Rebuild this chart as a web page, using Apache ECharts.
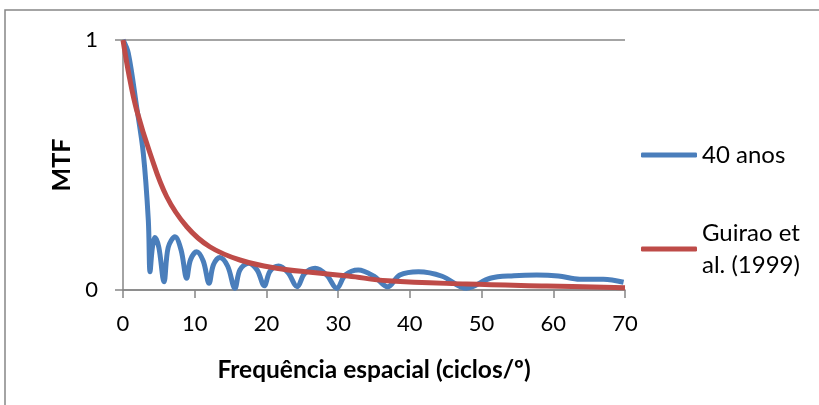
<!DOCTYPE html>
<html>
<head>
<meta charset="utf-8">
<script src="https://cdn.jsdelivr.net/npm/echarts@6/dist/echarts.min.js"></script>
<style>
  html, body { margin: 0; padding: 0; background: #fff; }
  #chart { width: 819px; height: 405px; }
</style>
</head>
<body>
<div id="chart"></div>
<script>
// series names
var seriesNames = ['40 anos', 'Guirao et al. (1999)'];

// 40 anos (blue)
var blueX = [0, 0.74, 1.9, 2.83, 3.53, 3.77, 4.1, 4.46, 5.0, 5.72, 6.3, 7.25, 8.1, 8.88, 9.4, 10.27, 11.2, 12.0,
  12.6, 13.5, 14.6, 15.6, 16.3, 17.5, 18.7, 19.7, 20.5, 21.7, 23.0, 24.3, 25.3, 26.8, 28.4, 29.8,
  31.0, 32.8, 35.0, 36.9, 38.6, 41.2, 44.5, 47.9, 51.2, 54.5, 57.7, 60.7, 63.7, 67.0, 69.8];
var blueY = [1.0, 0.947, 0.733, 0.547, 0.28, 0.073, 0.17, 0.21, 0.17, 0.033, 0.17, 0.213, 0.16, 0.047, 0.12, 0.153, 0.115, 0.027,
  0.1, 0.13, 0.095, 0.007, 0.08, 0.107, 0.08, 0.017, 0.075, 0.096, 0.07, 0.013, 0.065, 0.087, 0.06, 0.007,
  0.06, 0.08, 0.055, 0.013, 0.06, 0.073, 0.055, 0.007, 0.047, 0.057, 0.06, 0.056, 0.043, 0.043, 0.031];

// Guirao et al. (1999) (red)
var redX = [0, 0.9, 1.9, 3.77, 6.1, 8.9, 12.1, 16.3, 21.4, 26.5, 31.4, 36.9, 47.9, 59.1, 70];
var redY = [1.0, 0.85, 0.72, 0.547, 0.373, 0.253, 0.173, 0.12, 0.087, 0.07, 0.056, 0.037, 0.024, 0.016, 0.009];

var xTicks = [0, 70, 10];   // min, max, interval
var yTicks = [0, 1, 1];

function pairs(xs, ys) {
  return xs.map(function (x, i) { return [x, ys[i]]; });
}

var font = 'Lato';
var gray = '#868686';
var myEcharts = echarts.init(document.getElementById('chart'), null, { renderer: 'canvas' });

var option = {
  animation: false,
  backgroundColor: '#fff',
  textStyle: { fontFamily: font, color: '#000' },
  grid: { left: 123, right: 194, top: 40, bottom: 115 },
  graphic: [{
    type: 'polyline',
    shape: { points: [[5, 405], [5, 10], [819, 10]] },
    style: { stroke: gray, lineWidth: 1.5, fill: null },
    silent: true
  }],
  legend: [{
    orient: 'vertical',
    left: 641,
    top: 139,
    padding: 0,
    data: [seriesNames[0]],
    icon: 'roundRect',
    itemWidth: 56,
    itemHeight: 5,
    itemGap: 0,
    textStyle: { fontFamily: font, fontSize: 24, color: '#000', lineHeight: 32 }
  }, {
    orient: 'vertical',
    left: 641,
    top: 201,
    padding: 0,
    data: [{ name: seriesNames[1], textStyle: { padding: [32, 0, 0, 0] } }],
    formatter: function () { return 'Guirao et\nal. (1999)'; },
    icon: 'roundRect',
    itemWidth: 56,
    itemHeight: 5,
    textStyle: { fontFamily: font, fontSize: 24, color: '#000', lineHeight: 32 }
  }],
  xAxis: {
    type: 'value',
    min: xTicks[0],
    max: xTicks[1],
    interval: xTicks[2],
    name: 'Frequência espacial (ciclos/º)',
    nameLocation: 'middle',
    nameGap: 68,
    nameTextStyle: { fontFamily: font, fontSize: 24.5, fontWeight: 'bold', color: '#000' },
    axisLine: { lineStyle: { color: gray, width: 1.5 } },
    axisTick: { show: true, length: 8, lineStyle: { color: gray, width: 1.5 } },
    axisLabel: { margin: 23, fontFamily: font, fontSize: 22, color: '#000' },
    splitLine: { show: false }
  },
  yAxis: {
    type: 'value',
    min: yTicks[0],
    max: yTicks[1],
    interval: yTicks[2],
    name: 'MTF',
    nameLocation: 'middle',
    nameRotate: 90,
    nameGap: 46,
    nameTextStyle: { fontFamily: font, fontSize: 25, fontWeight: 'bold', color: '#000' },
    axisLine: { show: true, lineStyle: { color: gray, width: 1.5 } },
    axisTick: { show: true, length: 8, lineStyle: { color: gray, width: 1.5 } },
    axisLabel: { margin: 25, fontFamily: font, fontSize: 22, color: '#000' },
    splitLine: { show: true, lineStyle: { color: gray, width: 1.5 } }
  },
  series: [{
    name: seriesNames[0],
    type: 'line',
    data: pairs(blueX, blueY),
    showSymbol: false,
    smooth: 0.35,
    lineStyle: { color: '#4A7EBB', width: 5 },
    itemStyle: { color: '#4A7EBB' },
    z: 2
  }, {
    name: seriesNames[1],
    type: 'line',
    data: pairs(redX, redY),
    showSymbol: false,
    smooth: 0.4,
    lineStyle: { color: '#BE4B48', width: 5 },
    itemStyle: { color: '#BE4B48' },
    z: 3
  }]
};

myEcharts.setOption(option, true);
</script>
</body>
</html>
